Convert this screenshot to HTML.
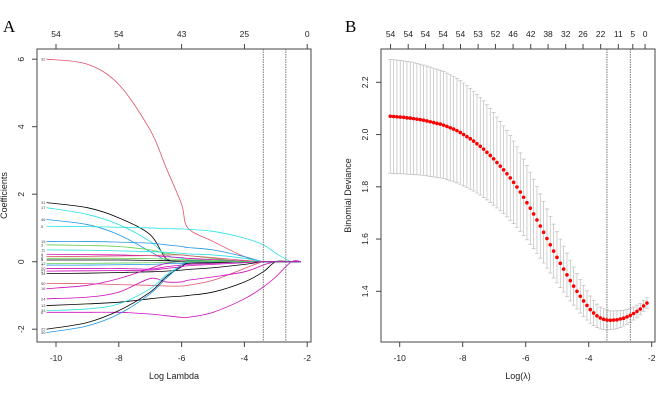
<!DOCTYPE html>
<html><head><meta charset="utf-8"><style>
body{margin:0;background:#fff}
svg{display:block;font-family:"Liberation Sans",sans-serif}
</style></head><body>
<svg id="c" width="669" height="417" viewBox="0 0 669 417">
<text x="3" y="32" font-family="Liberation Serif,serif" font-size="17">A</text>
<text x="345" y="32" font-family="Liberation Serif,serif" font-size="17">B</text>
<g id="pa"></g>
<g id="pb"></g>
</svg>
<script>
// ---------- Panel A data ----------
const pathX = [-10.3,-9,-8,-7,-6.5,-6,-5.8,-5,-4,-3.4,-3,-2.5,-2.2];
const pathColors = ["#DF536B","#000000","#28E2E5","#2297E6","#28E2E5","#2297E6","#61D04F","#28E2E5","#CD0BBC","#DF536B","#61D04F","#000000","#2297E6","#CD0BBC","#000000","#DF536B","#CD0BBC","#CD0BBC","#000000","#28E2E5","#CD0BBC","#000000","#2297E6","#61D04F","#CD0BBC"];
const pathLabels = ["32","31","17","46","5","15","3","11","9","2","8","4","7","20","34","50","16","24","13","33","6","22","30","12","27"];
const pathValues = [
 [6.0,5.85,5.25,3.9,2.8,1.7,1.0,0.6,0.15,0,0,0,0],
 [1.75,1.6,1.3,0.8,0.1,0,0,0,0,0,0,0,0],
 [1.6,1.4,1.1,0.6,0.2,0.1,0.05,0,0,0,0,0,0],
 [1.25,1.1,0.8,0.3,0.05,0,0,0,0,0,0,0,0],
 [1.05,1.04,1.02,1.0,0.98,0.97,0.96,0.9,0.7,0.5,0.25,0,0],
 [0.6,0.6,0.58,0.55,0.5,0.45,0.42,0.35,0.15,0,0,0,0],
 [0.5,0.48,0.45,0.35,0.25,0.2,0.18,0.1,0,0,0,0,0],
 [0.35,0.34,0.32,0.3,0.28,0.25,0.23,0.2,0.1,0,0,0,0],
 [0.22,0.21,0.2,0.18,0.15,0.12,0.1,0.06,0.02,0,0,0,0],
 [0.15,0.16,0.17,0.18,0.2,0.2,0.18,0.12,0.04,0,0,0,0],
 [0.1,0.1,0.1,0.09,0.08,0.07,0.06,0.04,0.01,0,0,0,0],
 [0.05,0.05,0.05,0.04,0.03,0.02,0.02,0.01,0,0,0,0,0],
 [-0.1,-0.1,-0.09,-0.08,-0.06,-0.05,-0.04,-0.02,0,0,0,0,0],
 [-0.2,-0.2,-0.2,-0.22,-0.15,-0.1,-0.08,-0.05,0,0,0,0,0],
 [-0.35,-0.34,-0.32,-0.3,-0.28,-0.25,-0.23,-0.18,-0.08,0,0,0,0],
 [-0.65,-0.65,-0.68,-0.7,-0.72,-0.72,-0.7,-0.55,-0.2,0,0,0,0],
 [-0.8,-0.7,-0.5,-0.2,-0.05,0,0,0,0,0,0,0,0],
 [-1.1,-1.05,-0.9,-0.5,-0.6,-0.6,-0.55,-0.45,-0.3,-0.1,0,0,0],
 [-1.3,-1.25,-1.2,-1.1,-1.05,-1.02,-1.0,-0.9,-0.6,-0.3,0,0,0],
 [-1.45,-1.4,-1.25,-0.8,-0.4,-0.1,0,0,0,0,0,0,0],
 [-1.5,-1.5,-1.5,-1.55,-1.6,-1.65,-1.65,-1.5,-1.1,-0.75,-0.45,0,0],
 [-2.0,-1.8,-1.45,-0.9,-0.45,-0.15,-0.05,-0.03,0,0,0,0,0],
 [-2.1,-1.9,-1.55,-0.95,-0.5,-0.1,0,0,0,0,0,0,0],
 [-0.05,-0.05,-0.04,-0.03,-0.02,-0.01,0,0,0,0,0,0,0],
 [-0.28,-0.27,-0.26,-0.25,-0.2,-0.15,-0.12,-0.08,-0.03,0,0,0,0]
];
const aXTicks = [-10,-8,-6,-4,-2];
const aYTicks = [-2,0,2,4,6];
const aTopTicks = [-10,-8,-6,-4,-2];
const aTopLabels = ["54","54","43","25","0"];
const aVLines = [-3.4,-2.68];

// ---------- Panel B data ----------
const devMean = [2.070,2.069,2.068,2.067,2.066,2.064,2.063,2.061,2.059,2.057,
 2.055,2.052,2.049,2.046,2.043,2.040,2.036,2.031,2.026,2.021,
 2.015,2.008,2.000,1.992,1.984,1.975,1.965,1.955,1.944,1.932,
 1.920,1.907,1.893,1.879,1.865,1.850,1.834,1.817,1.799,1.780,
 1.760,1.739,1.718,1.696,1.673,1.650,1.626,1.602,1.578,1.554,
 1.530,1.507,1.485,1.463,1.441,1.420,1.400,1.381,1.363,1.346,
 1.330,1.317,1.306,1.298,1.293,1.290,1.289,1.290,1.291,1.294,
 1.297,1.302,1.308,1.315,1.323,1.332,1.344,1.355];
const devSE = [0.218,0.218,0.217,0.217,0.216,0.216,0.215,0.214,0.213,0.212,
 0.211,0.210,0.209,0.208,0.207,0.206,0.205,0.204,0.203,0.202,
 0.200,0.198,0.197,0.195,0.193,0.191,0.189,0.187,0.185,0.182,
 0.180,0.177,0.174,0.171,0.168,0.165,0.162,0.158,0.154,0.150,
 0.146,0.142,0.138,0.133,0.128,0.123,0.118,0.113,0.108,0.103,
 0.098,0.093,0.088,0.083,0.078,0.073,0.068,0.064,0.060,0.056,
 0.052,0.048,0.045,0.042,0.040,0.038,0.036,0.035,0.034,0.032,
 0.030,0.029,0.027,0.025,0.024,0.022,0.021,0.020];
const lamStart = -10.3, lamEnd = -2.15;
const bXTicks = [-10,-8,-6,-4,-2];
const bYTicks = [1.4,1.6,1.8,2.0,2.2];
const bTopPos = [-10.29,-9.73,-9.18,-8.62,-8.07,-7.51,-6.96,-6.40,-5.84,-5.29,-4.73,-4.18,-3.62,-3.06,-2.60,-2.21];
const bTopLabels = ["54","54","54","54","54","53","52","46","42","38","32","26","22","11","5","0"];
const bVLines = [-3.42,-2.68];

const NS="http://www.w3.org/2000/svg";
function mk(tag,attrs,parent){const e=document.createElementNS(NS,tag);for(const k in attrs)e.setAttribute(k,attrs[k]);parent.appendChild(e);return e;}
function smooth(pts){let d="M"+pts[0][0]+","+pts[0][1];for(let i=0;i<pts.length-1;i++){const p0=pts[Math.max(i-1,0)],p1=pts[i],p2=pts[i+1],p3=pts[Math.min(i+2,pts.length-1)];const c1=[p1[0]+(p2[0]-p0[0])/6,p1[1]+(p2[1]-p0[1])/6],c2=[p2[0]-(p3[0]-p1[0])/6,p2[1]-(p3[1]-p1[1])/6];d+=` C${c1[0]},${c1[1]} ${c2[0]},${c2[1]} ${p2[0]},${p2[1]}`;}return d;}

function axes(g,box,xs,ys,xT,yT,topPos,topLab,xtitle,ytitle,yfmt,pfx){
  const r=mk("rect",{x:box.l,y:box.t,width:box.r-box.l,height:box.b-box.t,fill:"none",stroke:"#444","stroke-width":1},g);
  
  
  xT.forEach(v=>{const x=xs(v);mk("line",{x1:x,x2:x,y1:box.b,y2:box.b+5,stroke:"#444"},g);
    const t=mk("text",{x:x,y:box.b+19,"text-anchor":"middle","font-size":8.5,fill:"#222"},g);t.textContent=v;
    
    });
  yT.forEach(v=>{const y=ys(v);mk("line",{x1:box.l-5,x2:box.l,y1:y,y2:y,stroke:"#444"},g);
    const t=mk("text",{x:box.l-13,y:y,"text-anchor":"middle","font-size":8.5,fill:"#222",transform:`rotate(-90 ${box.l-13} ${y})`},g);t.textContent=yfmt(v);
    
    });
  topPos.forEach((v,i)=>{const x=xs(v);mk("line",{x1:x,x2:x,y1:box.t,y2:box.t-5,stroke:"#444"},g);
    const t=mk("text",{x:x,y:box.t-12,"text-anchor":"middle","font-size":8.5,fill:"#222"},g);t.textContent=topLab[i];
    
    });
  const xt=mk("text",{x:(box.l+box.r)/2,y:379,"text-anchor":"middle","font-size":9,fill:"#222"},g);xt.textContent=xtitle;
  
  
  const yx=box.l-30;
  const yt=mk("text",{x:yx,y:(box.t+box.b)/2,"text-anchor":"middle","font-size":9,fill:"#222",transform:`rotate(-90 ${yx} ${(box.t+box.b)/2})`},g);yt.textContent=ytitle;
  
  
}

// Panel A
(function(){
  const g=document.getElementById("pa");
  const box={l:37,r:311,t:49,b:342};
  const xs=v=>56+(v+10)*31.4, ys=v=>261.7-v*33.75;
  axes(g,box,xs,ys,aXTicks,aYTicks,aTopTicks,aTopLabels,"Log Lambda","Coefficients",v=>v,"a");
  pathValues.forEach((vals,i)=>{
    const pts=vals.map((v,j)=>[xs(pathX[j]),ys(v)]);
    const p=mk("path",{d:smooth(pts),fill:"none",stroke:pathColors[i%pathColors.length],"stroke-width":0.8},g);
    
    
    const t=mk("text",{x:41,y:ys(vals[0])+1.5,"font-size":4,fill:"#444"},g);t.textContent=pathLabels[i];
    
    
  });
  aVLines.forEach(v=>{const l=mk("line",{x1:xs(v),x2:xs(v),y1:box.t,y2:box.b,stroke:"#555","stroke-width":0.8,"stroke-dasharray":"1.5,1"},g);
    
    });
})();

// Panel B
(function(){
  const g=document.getElementById("pb");
  const box={l:381,r:655,t:49,b:342};
  const xs=v=>399.7+(v+10)*31.5, ys=v=>291.3-(v-1.4)*261.25;
  axes(g,box,xs,ys,bXTicks,bYTicks,bTopPos,bTopLabels,"Log(λ)","Binomial Deviance",v=>v.toFixed(1),"b");
  const n=devMean.length, step=(lamEnd-lamStart)/(n-1);
  devMean.forEach((m,i)=>{
    const x=xs(lamStart+i*step), hi=ys(m+devSE[i]), lo=ys(m-devSE[i]);
    const e=mk("path",{d:`M${x},${hi}V${lo}M${x-2},${hi}H${x+2}M${x-2},${lo}H${x+2}`,stroke:"#bdbdbd","stroke-width":0.7,fill:"none"},g);
    
    
  });
  bVLines.forEach(v=>{const l=mk("line",{x1:xs(v),x2:xs(v),y1:box.t,y2:box.b,stroke:"#555","stroke-width":0.8,"stroke-dasharray":"1.5,1"},g);
    
    });
  devMean.forEach((m,i)=>{
    const c=mk("circle",{cx:xs(lamStart+i*step),cy:ys(m),r:1.8,fill:"#ff0000"},g);
    
    
  });
})();
</script>
</body></html>
